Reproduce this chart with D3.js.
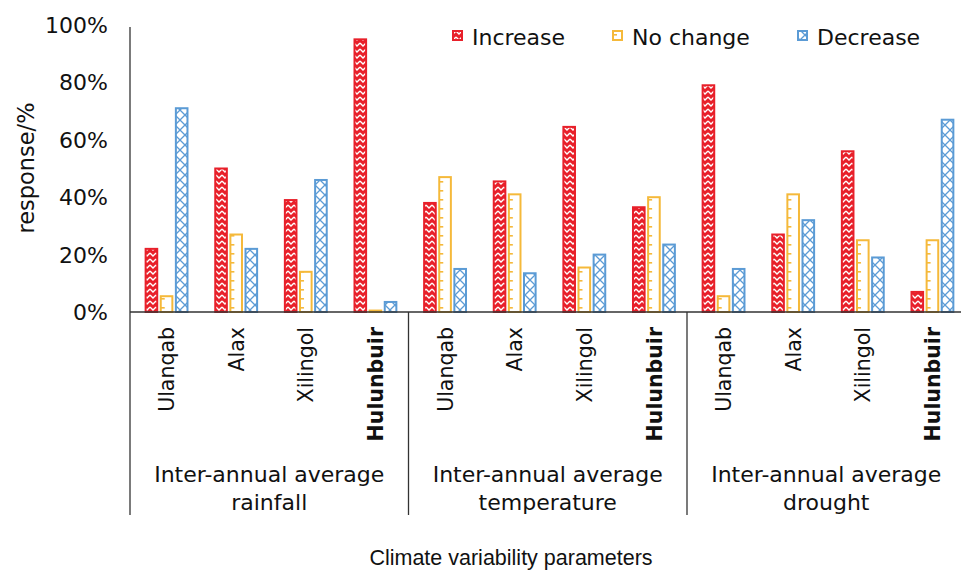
<!DOCTYPE html>
<html><head><meta charset="utf-8">
<script src="https://cdn.jsdelivr.net/npm/d3@7"></script>
<style>body{margin:0;background:#fff}svg{display:block}text{font-family:"DejaVu Sans",sans-serif;fill:#111}text.title{font-family:"Liberation Sans",Arial,sans-serif}</style>
</head><body><svg id="c" width="961" height="571"></svg>
<script>
const groups = ["Inter-annual average|rainfall","Inter-annual average|temperature","Inter-annual average|drought"];
const regions = ["Ulanqab","Alax","Xilingol","Hulunbuir"];
const series = ["Increase","No change","Decrease"];
const increase = [22,50,39,95, 38,45.5,64.5,36.5, 79,27,56,7];
const noChange = [5.5,27,14,0.5, 47,41,15.5,40, 5.5,41,25,25];
const decrease = [71,22,46,3.5, 15,13.5,20,23.5, 15,32,19,67];
const yTicks = [0,20,40,60,80,100];
const colors = ["#e8202a","#f5b93a","#5b9bd5"];

const svg = d3.select("#c");
const left = 130, slotW = 278.5/4;
const slots = [];
groups.forEach((g,gi)=>regions.forEach((r,ri)=>slots.push({g:gi,r:ri,key:gi+"-"+ri})));
const x0 = d3.scaleBand().domain(slots.map(s=>s.key)).range([left,left+slotW*12]).padding(0);
const x1 = d3.scaleBand().domain(series).range([x0.bandwidth()*0.21,x0.bandwidth()*0.84]).paddingInner(0.1);
const y = d3.scaleLinear().domain([0,100]).range([312,25]);
const vals = [increase,noChange,decrease];

// patterns
const defs = svg.append("defs");
const pr = defs.append("pattern").attr("id","pInc").attr("patternUnits","userSpaceOnUse").attr("width",6).attr("height",6);
pr.append("rect").attr("width",6).attr("height",6).attr("fill","#e8202a");
pr.append("path").attr("d","M0,1 L3,4 L6,1").attr("fill","none").attr("stroke","#fff").attr("stroke-width",1.3);
const pb = defs.append("pattern").attr("id","pDec").attr("patternUnits","userSpaceOnUse").attr("width",10).attr("height",10);
pb.append("rect").attr("width",10).attr("height",10).attr("fill","#fff");
pb.append("path").attr("d","M0,0 L10,10 M10,0 L0,10").attr("stroke","#5b9bd5").attr("stroke-width",1.3);
const py = defs.append("pattern").attr("id","pNo").attr("patternUnits","userSpaceOnUse")
  .attr("x",left+x1("No change")).attr("y",y(0)).attr("width",x0.step()).attr("height",9);
py.append("rect").attr("width",x0.step()).attr("height",9).attr("fill","#fff");
py.append("rect").attr("x",0).attr("y",4).attr("width",5).attr("height",1.6).attr("fill","#f5b93a");
const pyl = defs.append("pattern").attr("id","pNoL").attr("patternUnits","objectBoundingBox").attr("width",1).attr("height",1);
pyl.append("rect").attr("width",10).attr("height",10).attr("fill","#fff");
pyl.append("rect").attr("x",0).attr("y",3).attr("width",4).attr("height",1.6).attr("fill","#f5b93a");
const fills = ["url(#pInc)","url(#pNo)","url(#pDec)"];
const legFills = ["url(#pInc)","url(#pNoL)","url(#pDec)"];

// bars
series.forEach((s,si)=>{
  svg.append("g").selectAll("rect").data(slots).join("rect")
    .attr("x",d=>x0(d.key)+x1(s)+1)
    .attr("width",x1.bandwidth()-2)
    .attr("y",(d,i)=>y(vals[si][i]))
    .attr("height",(d,i)=>Math.max(0.1,y(0)-y(vals[si][i])))
    .attr("fill",fills[si]).attr("stroke",colors[si]).attr("stroke-width",2);
});

// axes
svg.append("line").attr("x1",left).attr("x2",961).attr("y1",y(0)).attr("y2",y(0)).attr("stroke","#333").attr("stroke-width",1.3);
svg.append("line").attr("x1",left).attr("x2",left).attr("y1",y(100)+2).attr("y2",515).attr("stroke","#333").attr("stroke-width",1.3);
[1,2].forEach(gi=>{
  const xx = x0(gi+"-0");
  svg.append("line").attr("x1",xx).attr("x2",xx).attr("y1",y(0)).attr("y2",515).attr("stroke","#333").attr("stroke-width",1.3);
});
svg.append("g").selectAll("text").data(yTicks).join("text")
  .attr("x",108).attr("y",d=>y(d)).attr("dy","0.36em").attr("text-anchor","end")
  .attr("font-size",22).text(d=>d+"%");
svg.append("text").attr("transform","translate(26,168) rotate(-90)").attr("dy","0.36em")
  .attr("text-anchor","middle").attr("font-size",22.5).text("response/%");

// category labels
svg.append("g").selectAll("text").data(slots).join("text")
  .attr("transform",d=>`translate(${x0(d.key)+x0.bandwidth()/2+2},327) rotate(-90)`)
  .attr("dy","0.36em").attr("text-anchor","end").attr("font-size",20.5)
  .attr("font-weight",d=>regions[d.r]==="Hulunbuir"?"bold":"normal")
  .text(d=>regions[d.r]);
// group labels
groups.forEach((g,gi)=>{
  const cx = x0(gi+"-0")+slotW*2;
  const lines = g.split("|");
  lines.forEach((ln,li)=>svg.append("text").attr("x",cx).attr("y",482+li*28)
    .attr("text-anchor","middle").attr("font-size",22).text(ln));
});
svg.append("text").attr("class","title").attr("x",511).attr("y",565).attr("text-anchor","middle")
  .attr("font-size",21.5).text("Climate variability parameters");

// legend
const legX = [452,612,797];
series.forEach((s,si)=>{
  svg.append("rect").attr("x",legX[si]+1).attr("y",31).attr("width",9).attr("height",9)
    .attr("fill",legFills[si]).attr("stroke",colors[si]).attr("stroke-width",2);
  svg.append("text").attr("x",legX[si]+20).attr("y",37).attr("dy","0.36em").attr("font-size",22).text(s);
});
</script></body></html>
